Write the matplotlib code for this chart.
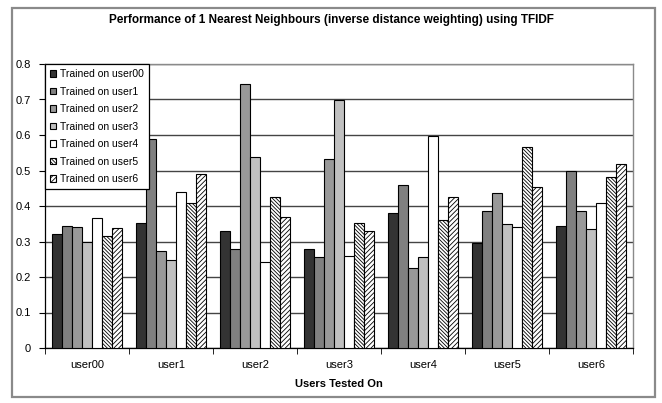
import matplotlib
matplotlib.use("Agg")
import matplotlib.pyplot as plt
import numpy as np
from matplotlib.patches import Rectangle

plt.rcParams['font.family'] = ['Liberation Sans', 'DejaVu Sans']
plt.rcParams['hatch.linewidth'] = 0.6

groups = ["user00", "user1", "user2", "user3", "user4", "user5", "user6"]
series_names = ["Trained on user00", "Trained on user1", "Trained on user2",
                "Trained on user3", "Trained on user4", "Trained on user5",
                "Trained on user6"]

trained_user00 = [0.321, 0.351, 0.329, 0.279, 0.380, 0.295, 0.344]
trained_user1 = [0.345, 0.588, 0.279, 0.256, 0.460, 0.385, 0.498]
trained_user2 = [0.342, 0.272, 0.745, 0.531, 0.226, 0.436, 0.385]
trained_user3 = [0.300, 0.247, 0.539, 0.700, 0.256, 0.349, 0.334]
trained_user4 = [0.365, 0.440, 0.241, 0.260, 0.598, 0.342, 0.409]
trained_user5 = [0.316, 0.409, 0.426, 0.351, 0.360, 0.567, 0.481]
trained_user6 = [0.339, 0.489, 0.368, 0.329, 0.426, 0.453, 0.519]

series = [trained_user00, trained_user1, trained_user2, trained_user3,
          trained_user4, trained_user5, trained_user6]
colors = ["#333333", "#808080", "#999999", "#c0c0c0", "#ffffff", "#ffffff", "#ffffff"]
hatches = [None, None, None, None, None, "\\" * 9, "/" * 7]

fig = plt.figure(figsize=(6.62, 4.03), dpi=100)
fig.patch.set_facecolor("white")
# outer chart frame
fig.add_artist(Rectangle((12 / 662, 1 - 397 / 403), (655 - 12) / 662, (397 - 8) / 403,
                         transform=fig.transFigure, fill=False,
                         edgecolor="#8a8a8a", linewidth=1.6))

ax = fig.add_axes([45 / 662, 1 - 348 / 403, (633 - 45) / 662, (348 - 64) / 403])

x = np.arange(len(groups))
n = len(series)
bw = 0.119
for i, (vals, c, h, name) in enumerate(zip(series, colors, hatches, series_names)):
    offs = (i - (n - 1) / 2) * bw
    ax.bar(x + offs, vals, width=bw, color=c, edgecolor="black", linewidth=0.8,
           hatch=h, label=name, zorder=3)

ax.set_xlim(-0.5, len(groups) - 0.5)
ax.set_ylim(0, 0.8)
ax.set_yticks(np.arange(0, 0.81, 0.1))
ax.set_yticklabels(["0"] + [f"{v:.1f}" for v in np.arange(0.1, 0.81, 0.1)], fontsize=8)
ax.yaxis.grid(True, color="#444444", linewidth=1.0, zorder=0)
ax.set_axisbelow(True)

ax.set_xticks(x)
ax.set_xticklabels(groups, fontsize=8)
ax.tick_params(axis="x", which="major", length=0, pad=9)
ax.set_xticks(np.arange(-0.5, len(groups), 1), minor=True)
ax.tick_params(axis="x", which="minor", length=4, direction="out", color="black")
ax.tick_params(axis="y", length=4, direction="out", pad=6)

for s in ["top", "right"]:
    ax.spines[s].set_color("#8a8a8a")
    ax.spines[s].set_linewidth(1.0)
for s in ["left", "bottom"]:
    ax.spines[s].set_color("black")
    ax.spines[s].set_linewidth(0.9)

ax.set_xlabel("Users Tested On", fontsize=8, fontweight="bold", labelpad=6)
fig.text(0.5, 1 - 20 / 403, "Performance of 1 Nearest Neighbours (inverse distance weighting) using TFIDF",
         ha="center", va="center", fontsize=8.5, fontweight="bold")

leg = ax.legend(loc="upper left", bbox_to_anchor=(0, 1), borderaxespad=0,
                fancybox=False, edgecolor="black", framealpha=1, fontsize=7.5,
                handlelength=0.55, handleheight=0.55, handletextpad=0.35,
                labelspacing=0.72, borderpad=0.5)
leg.get_frame().set_linewidth(0.9)
leg.set_zorder(5)

fig.savefig("out.png", dpi=100, facecolor="white")
